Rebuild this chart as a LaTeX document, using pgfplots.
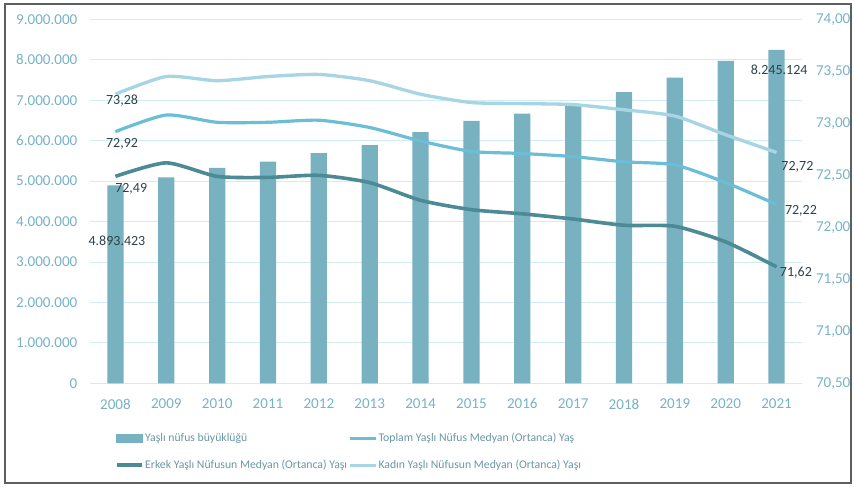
\documentclass[border=0pt]{standalone}
\usepackage{fontspec}
\setmainfont{Carlito}
\usepackage{pgfplots}
\pgfplotsset{compat=1.18}
\definecolor{barc}{RGB}{120,177,192}
\definecolor{topc}{RGB}{108,189,214}
\definecolor{erkc}{RGB}{76,139,149}
\definecolor{kadc}{RGB}{168,213,228}
\definecolor{tickc}{RGB}{118,178,200}
\definecolor{gridc}{RGB}{210,236,245}
\definecolor{labc}{RGB}{45,65,75}
\definecolor{legc}{RGB}{105,150,165}
\definecolor{framec}{RGB}{95,95,95}
\pgfplotstableread{
x pop toplam erkek kadin
0 4893423 72.92 72.49 73.28
1 5090000 73.08 72.62 73.45
2 5330000 73.01 72.49 73.41
3 5480000 73.01 72.48 73.45
4 5690000 73.03 72.50 73.47
5 5890000 72.96 72.43 73.41
6 6210000 72.83 72.26 73.28
7 6490000 72.73 72.17 73.20
8 6670000 72.71 72.13 73.19
9 6910000 72.68 72.08 73.18
10 7200000 72.63 72.02 73.13
11 7560000 72.60 72.01 73.07
12 7970000 72.43 71.86 72.89
13 8245124 72.22 71.62 72.72
}\datatab
\begin{document}
\begin{tikzpicture}
\useasboundingbox (-67.5pt,-77.8pt) rectangle (573pt,287.5pt);
\draw[framec, line width=1.1pt] (-63.75pt,-74.8pt) rectangle (570.75pt,284.5pt);
\begin{axis}[
  at={(0pt,0pt)}, anchor=south west,
  scale only axis, width=534pt, height=273pt,
  xmin=-0.5, xmax=13.5, ymin=0, ymax=9000000,
  clip=false,
  axis line style={draw=none},
  major tick length=0pt,
  ytick={0,1000000,2000000,3000000,4000000,5000000,6000000,7000000,8000000,9000000},
  ymajorgrids, grid style={gridc, line width=0.7pt},
  xtick={0,...,13},
  xticklabels={2008,2009,2010,2011,2012,2013,2014,2015,2016,2017,2018,2019,2020,2021},
  scaled y ticks=false,
  tick label style={text=tickc, font=\fontsize{11.3}{13}\selectfont},
  /pgf/number format/assume math mode=true,
  yticklabel style={/pgf/number format/.cd, fixed, 1000 sep={.}, /tikz/.cd, xshift=-6pt},
  xticklabel style={yshift=-8pt},
]
\addplot[ybar, bar width=12.2pt, fill=barc, draw=none] table[x=x, y=pop] {\datatab};
\node[text=labc, font=\fontsize{10.5}{12}\selectfont] at (axis cs:0.03,3535000) {4.893.423};
\node[text=labc, font=\fontsize{10.5}{12}\selectfont] at (axis cs:13.05,7763000) {8.245.124};
\end{axis}
\begin{axis}[
  at={(0pt,0pt)}, anchor=south west,
  scale only axis, width=534pt, height=273pt,
  xmin=-0.5, xmax=13.5, ymin=70.5, ymax=74,
  clip=false,
  axis line style={draw=none},
  major tick length=0pt,
  axis y line*=right, axis x line=none,
  ytick={70.5,71,71.5,72,72.5,73,73.5,74},
  tick label style={text=tickc, font=\fontsize{11.3}{13}\selectfont},
  /pgf/number format/assume math mode=true,
  yticklabel style={/pgf/number format/.cd, fixed, fixed zerofill, precision=2, use comma, /tikz/.cd, xshift=7pt},
  legend columns=2,
  legend style={at={(axis description cs:0.029,-0.122)}, anchor=north west, draw=none, fill=none,
    font=\fontsize{8.8}{10.5}\selectfont, text=legc, row sep=8pt,
    nodes={inner xsep=1pt},
    /tikz/every even column/.append style={column sep=0pt}},
  legend cell align=left,
]
\addlegendimage{legend image code/.code={\fill[barc] (0pt,-3pt) rectangle (19pt,3pt);}}
\addlegendentry{Yaşlı nüfus büyüklüğü}
\addplot[topc, line width=2.4pt, smooth, tension=0.4, legend image code/.code={\draw[topc, line width=2.4pt] (0pt,0pt) -- (19pt,0pt);}] table[x=x, y=toplam] {\datatab};
\addlegendentry{Toplam Yaşlı Nüfus Medyan (Ortanca) Yaş}
\addplot[erkc, line width=2.7pt, smooth, tension=0.4, legend image code/.code={\draw[erkc, line width=2.7pt] (0pt,0pt) -- (19pt,0pt);}] table[x=x, y=erkek] {\datatab};
\addlegendentry{Erkek Yaşlı Nüfusun Medyan (Ortanca) Yaşı}
\addplot[kadc, line width=2.5pt, smooth, tension=0.4, legend image code/.code={\draw[kadc, line width=2.5pt] (0pt,0pt) -- (19pt,0pt);}] table[x=x, y=kadin] {\datatab};
\addlegendentry{Kadın Yaşlı Nüfusun Medyan (Ortanca) Yaşı}
\node[text=labc, font=\fontsize{10.5}{12}\selectfont] at (axis cs:0.13,73.214) {73,28};
\node[text=labc, font=\fontsize{10.5}{12}\selectfont] at (axis cs:0.13,72.80) {72,92};
\node[text=labc, font=\fontsize{10.5}{12}\selectfont] at (axis cs:0.31,72.37) {72,49};
\node[text=labc, font=\fontsize{10.5}{12}\selectfont] at (axis cs:13.41,72.584) {72,72};
\node[text=labc, font=\fontsize{10.5}{12}\selectfont] at (axis cs:13.48,72.159) {72,22};
\node[text=labc, font=\fontsize{10.5}{12}\selectfont] at (axis cs:13.38,71.568) {71,62};
\end{axis}
\end{tikzpicture}
\end{document}
